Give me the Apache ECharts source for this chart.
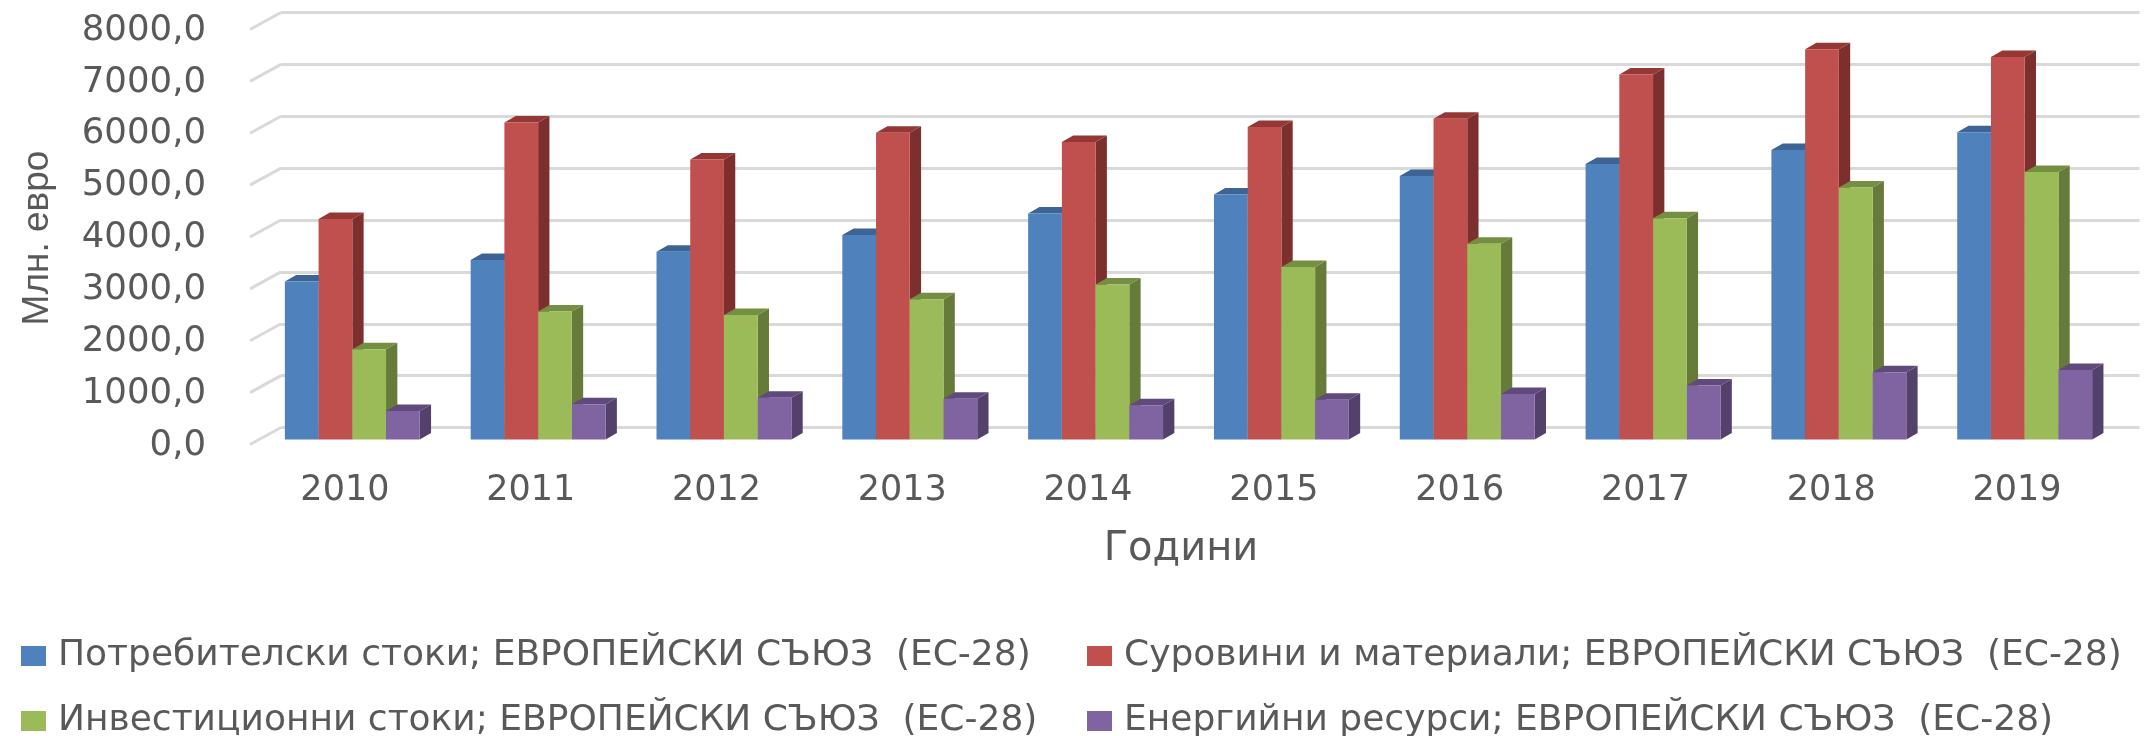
<!DOCTYPE html>
<html>
<head>
<meta charset="utf-8">
<style>
  html, body { margin: 0; padding: 0; background: #fff; }
  #container { width: 2150px; height: 736px; }
</style>
<script src="https://cdn.jsdelivr.net/npm/echarts@6/dist/echarts.min.js"></script>
</head>
<body>
<div id="container"></div>
<script>
var years = ['2010', '2011', '2012', '2013', '2014', '2015', '2016', '2017', '2018', '2019'];
var consumerGoods = [3042, 3460, 3618, 3940, 4357, 4723, 5078, 5309, 5581, 5921];
var rawMaterials = [4250, 6107, 5398, 5912, 5733, 6022, 6182, 7033, 7521, 7370];
var investmentGoods = [1739, 2464, 2398, 2700, 2988, 3323, 3773, 4264, 4854, 5157];
var energy = [549, 678, 804, 785, 657, 765, 875, 1037, 1295, 1340];
var tickValues = [0, 1000, 2000, 3000, 4000, 5000, 6000, 7000, 8000];

var seriesNames = [
  'Потребителски стоки; ЕВРОПЕЙСКИ СЪЮЗ  (ЕС-28)',
  'Суровини и материали; ЕВРОПЕЙСКИ СЪЮЗ  (ЕС-28)',
  'Инвестиционни стоки; ЕВРОПЕЙСКИ СЪЮЗ  (ЕС-28)',
  'Енергийни ресурси; ЕВРОПЕЙСКИ СЪЮЗ  (ЕС-28)'
];
var seriesValues = [consumerGoods, rawMaterials, investmentGoods, energy];
// front, top, side
var shades = [
  ['#4f81bd', '#3c6494', '#385d8a'],
  ['#c0504d', '#953735', '#7d2f2e'],
  ['#9bbb59', '#748e42', '#667a3a'],
  ['#8064a2', '#604a7b', '#53406b']
];

var textColor = '#595959';
var fontName = 'DejaVu Sans';
var barShare = 0.1815;
var depthX = 11.3;
var depthY = 6.5;

var dom = document.getElementById('container');
var myChart = echarts.init(dom, null, { renderer: 'canvas' });

function renderBar(index) {
  return function (params, api) {
    var base = api.coord([api.value(0), 0]);
    var top = api.coord([api.value(0), api.value(1)]);
    var band = api.size([1, 0])[0];
    var w = band * barShare;
    var x = base[0] - 2 * w + index * w;
    var c = shades[index];
    return {
      type: 'group',
      children: [
        { type: 'polygon', shape: { points: [[x + w, top[1]], [x + w + depthX, top[1] - depthY], [x + w + depthX, base[1] - depthY], [x + w, base[1]]] }, style: { fill: c[2] } },
        { type: 'polygon', shape: { points: [[x, top[1]], [x + depthX, top[1] - depthY], [x + w + depthX, top[1] - depthY], [x + w, top[1]]] }, style: { fill: c[1] } },
        { type: 'rect', shape: { x: x, y: top[1], width: w, height: base[1] - top[1] }, style: { fill: c[0] } }
      ]
    };
  };
}

function renderSideLine(params, api) {
  var p = api.coord([0, api.value(1)]);
  return {
    type: 'line',
    shape: { x1: p[0], y1: p[1], x2: p[0] - 31, y2: p[1] + 17 },
    style: { stroke: '#d9d9d9', lineWidth: 3 }
  };
}

var barSeries = seriesNames.map(function (name, i) {
  return {
    name: name,
    type: 'custom',
    xAxisIndex: 2,
    yAxisIndex: 2,
    clip: false,
    z: 5,
    itemStyle: { color: shades[i][0] },
    renderItem: renderBar(i),
    encode: { x: 0, y: 1 },
    data: years.map(function (y, j) { return [y, seriesValues[i][j]]; })
  };
});

var legendPlaces = [
  { left: 21, top: 638 },
  { left: 1087, top: 638 },
  { left: 21, top: 703 },
  { left: 1087, top: 703 }
];

var option = {
  animation: false,
  backgroundColor: '#fff',
  textStyle: { fontFamily: fontName },
  legend: seriesNames.map(function (name, i) {
    return {
      data: [name],
      left: legendPlaces[i].left,
      top: legendPlaces[i].top,
      padding: 0,
      itemWidth: 25,
      itemHeight: 20,
      icon: 'rect',
      selectedMode: false,
      textStyle: { color: textColor, fontFamily: fontName, fontSize: 36, padding: [0, 0, 0, 7] }
    };
  }),
  grid: [
    // back wall
    { left: 281, top: 12.5, width: 1858.5, height: 415 },
    // front edge, carries the labels
    { left: 252, top: 30.5, width: 1858, height: 415 },
    // plane of the bars
    { left: 259.4, top: 24.4, width: 1858.2, height: 415 }
  ],
  xAxis: [
    { gridIndex: 0, type: 'value', min: 0, max: 1, show: false },
    {
      gridIndex: 1,
      type: 'category',
      data: years,
      name: 'Години',
      nameLocation: 'middle',
      nameGap: 84,
      nameTextStyle: { color: textColor, fontFamily: fontName, fontSize: 40 },
      axisLine: { show: false },
      axisTick: { show: false },
      axisLabel: { color: textColor, fontFamily: fontName, fontSize: 35, margin: 28 }
    },
    { gridIndex: 2, type: 'category', data: years, show: false }
  ],
  yAxis: [
    {
      gridIndex: 0,
      type: 'value',
      min: 0,
      max: 8000,
      interval: 1000,
      axisLine: { show: false },
      axisTick: { show: false },
      axisLabel: { show: false },
      splitLine: { show: true, lineStyle: { color: '#d9d9d9', width: 3 } }
    },
    {
      gridIndex: 1,
      type: 'value',
      min: 0,
      max: 8000,
      interval: 1000,
      name: 'Млн. евро',
      nameLocation: 'middle',
      nameGap: 196,
      nameTextStyle: { color: textColor, fontFamily: 'Liberation Sans', fontSize: 37 },
      axisLine: { show: false },
      axisTick: { show: false },
      splitLine: { show: false },
      axisLabel: {
        color: textColor,
        fontFamily: fontName,
        fontSize: 35.5,
        margin: 46,
        formatter: function (v) { return v.toFixed(1).replace('.', ','); }
      }
    },
    { gridIndex: 2, type: 'value', min: 0, max: 8000, interval: 1000, show: false }
  ],
  series: [{
    type: 'custom',
    xAxisIndex: 0,
    yAxisIndex: 0,
    clip: false,
    silent: true,
    z: 1,
    renderItem: renderSideLine,
    encode: { x: 0, y: 1 },
    data: tickValues.map(function (v) { return [0, v]; })
  }].concat(barSeries)
};

myChart.setOption(option);
window.addEventListener('resize', myChart.resize);
</script>
</body>
</html>
